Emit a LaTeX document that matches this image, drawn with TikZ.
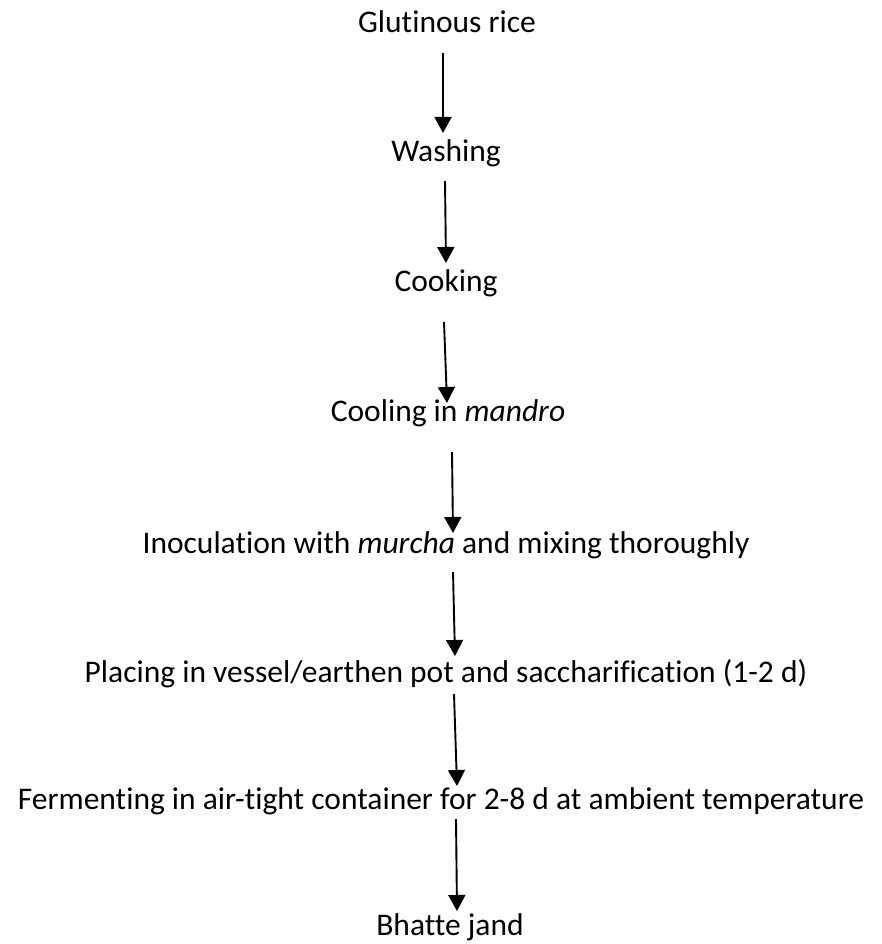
\documentclass[tikz,border=0pt]{standalone}
\usepackage{fontspec}
\setmainfont{Carlito}[Ligatures=NoCommon]
\usetikzlibrary{arrows.meta}
\begin{document}
\begin{tikzpicture}[x=1pt,y=-1pt,
  lbl/.style={inner sep=0pt,anchor=base,font=\fontsize{31.5}{36}\selectfont},
  flow/.style={line width=1.9pt,-{Triangle[length=16pt,width=17pt]}}]
\useasboundingbox (0,0) rectangle (882,944);
\node[lbl] (n1) at (447,33) {Glutinous rice};
\node[lbl] (n2) at (446,161) {Washing};
\node[lbl] (n3) at (446,291) {Cooking};
\node[lbl] (n4) at (448,421) {Cooling in \textit{mandro}};
\node[lbl] (n5) at (446,553) {Inoculation with \textit{murcha} and mixing thoroughly};
\node[lbl] (n6) at (446,682) {Placing in vessel/earthen pot and saccharification (1-2 d)};
\node[lbl] (n7) at (441,809) {Fermenting in air-tight container for 2-8 d at ambient temperature};
\node[lbl] (n8) at (450,935) {Bhatte jand};
\coordinate (a1s) at (443,53);  \coordinate (a1e) at (443,133);
\coordinate (a2s) at (445,181); \coordinate (a2e) at (446,263);
\coordinate (a3s) at (444,322); \coordinate (a3e) at (447,403);
\coordinate (a4s) at (452,452); \coordinate (a4e) at (453,533);
\coordinate (a5s) at (453,572); \coordinate (a5e) at (455,656);
\coordinate (a6s) at (454,694); \coordinate (a6e) at (457,786);
\coordinate (a7s) at (456,819); \coordinate (a7e) at (457,911);
\draw[flow] (a1s) -- (a1e);
\draw[flow] (a2s) -- (a2e);
\draw[flow] (a3s) -- (a3e);
\draw[flow] (a4s) -- (a4e);
\draw[flow] (a5s) -- (a5e);
\draw[flow] (a6s) -- (a6e);
\draw[flow] (a7s) -- (a7e);
\end{tikzpicture}
\end{document}
